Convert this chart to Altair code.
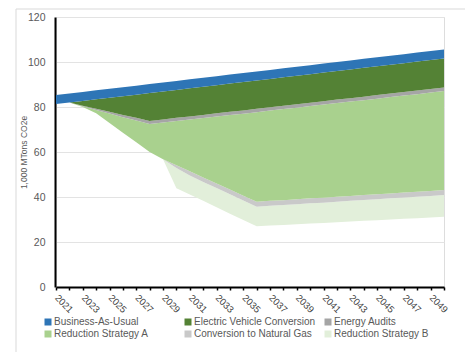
import altair as alt
import pandas as pd

years = list(range(2021, 2051))

# stacked contributions (1,000 MTons CO2e), bottom to top
remaining = [81.3, 82.0, 80.0, 77.2, 72.9, 68.6, 64.3, 60.0, 56.8, 43.9,
             41.1, 38.3, 35.4, 32.6, 29.8, 27.0, 27.3, 27.6, 27.9, 28.2,
             28.5, 28.8, 29.1, 29.4, 29.7, 30.0, 30.3, 30.6, 30.9, 31.2]
reduction_b = [0, 0, 0, 0, 0, 0, 0, 0, 0, 9.0,
               8.5, 8.4, 8.6, 8.6, 8.7, 8.7, 8.8, 8.8, 8.9, 9.0,
               9.0, 9.1, 9.2, 9.3, 9.3, 9.4, 9.5, 9.5, 9.6, 9.7]
natural_gas = [0, 0, 0, 0, 0, 0, 0, 0, 0, 1.2,
               1.8, 2.0, 2.0, 2.1, 2.1, 2.2, 2.2, 2.2, 2.2, 2.2,
               2.2, 2.2, 2.2, 2.2, 2.2, 2.2, 2.2, 2.2, 2.2, 2.2]
reduction_a = [0, 0, 0.3, 1.5, 4.2, 6.9, 9.7, 12.4, 16.3, 19.7,
               23.0, 26.4, 29.8, 33.2, 36.4, 39.8, 40.1, 40.5, 40.7, 41.0,
               41.4, 41.7, 41.9, 42.1, 42.5, 42.8, 43.1, 43.4, 43.7, 44.0]
energy_audits = [0, 0, 0.3, 0.5, 0.8, 1.0, 1.2, 1.4, 1.4, 1.4,
                 1.4, 1.4, 1.4, 1.4, 1.5, 1.5, 1.5, 1.5, 1.5, 1.5,
                 1.5, 1.5, 1.5, 1.6, 1.6, 1.6, 1.6, 1.6, 1.6, 1.6]
ev_conversion = [0, 0, 2.1, 4.2, 6.2, 8.3, 10.3, 12.4, 12.4, 12.4,
                 12.5, 12.5, 12.5, 12.5, 12.6, 12.6, 12.6, 12.6, 12.7, 12.7,
                 12.7, 12.7, 12.8, 12.8, 12.8, 12.8, 12.8, 12.9, 12.9, 12.9]
business_as_usual = [4.0, 4.0, 4.0, 4.0, 4.0, 4.0, 4.0, 4.0, 4.0, 4.0,
                     4.0, 4.0, 4.0, 4.0, 4.0, 4.0, 4.0, 4.0, 4.0, 4.0,
                     4.0, 4.0, 4.0, 4.0, 4.0, 4.0, 4.0, 4.0, 4.0, 4.0]

legend_order = ["Business-As-Usual", "Electric Vehicle Conversion", "Energy Audits",
                "Reduction Strategy A", "Conversion to Natural Gas", "Reduction Strategy B"]
colors = ["#2E75B6", "#548235", "#A5A5A5", "#A9D18E", "#C9C9C9", "#E2EFDA"]

stack = [
    ("Reduction Strategy B", reduction_b),
    ("Conversion to Natural Gas", natural_gas),
    ("Reduction Strategy A", reduction_a),
    ("Energy Audits", energy_audits),
    ("Electric Vehicle Conversion", ev_conversion),
    ("Business-As-Usual", business_as_usual),
]

rows = []
for i, yr in enumerate(years):
    base = remaining[i]
    for name, vals in stack:
        rows.append({"year": yr, "series": name, "bottom": base, "top": base + vals[i]})
        base += vals[i]
df = pd.DataFrame(rows)

font = "Liberation Sans"

areas = alt.Chart(df).mark_area(opacity=1, strokeWidth=0, interpolate="linear").encode(
    x=alt.X("year:Q",
            scale=alt.Scale(domain=[2021, 2050], nice=False, zero=False),
            axis=alt.Axis(values=years, format="d",
                          labelExpr="datum.value % 2 == 1 ? datum.label : ''",
                          labelAngle=45, labelAlign="left", labelBaseline="middle",
                          labelPadding=6, labelFontSize=9.5, labelColor="#404040",
                          labelOverlap=False, labelFont=font,
                          tickSize=3, tickColor="black", tickWidth=1.5,
                          domainColor="black", domainWidth=2, grid=False,
                          title=None, zindex=1)),
    y=alt.Y("top:Q",
            scale=alt.Scale(domain=[0, 120], nice=False),
            axis=alt.Axis(values=[0, 20, 40, 60, 80, 100, 120], grid=True,
                          gridColor="#E3E3E3", gridWidth=1, ticks=False,
                          domainColor="black", domainWidth=2, offset=1,
                          labelPadding=10, labelFontSize=10.5, labelColor="#595959",
                          labelFont=font,
                          title="1,000 MTons CO2e", titleFontSize=8.5,
                          titleFontWeight="normal", titleColor="#595959",
                          titleFont=font, titleAngle=270, titleX=-32, titleY=135,
                          titleAlign="center", titleBaseline="middle")),
    y2="bottom:Q",
    color=alt.Color("series:N",
                    scale=alt.Scale(domain=legend_order, range=colors),
                    legend=alt.Legend(title=None, orient="none", legendX=-13, legendY=300,
                                      direction="horizontal",
                                      columns=3, symbolType="square", symbolSize=49,
                                      symbolStrokeWidth=0, labelFontSize=10,
                                      labelColor="#595959", labelFont=font,
                                      columnPadding=7, rowPadding=2, gridAlign="all",
                                      labelOffset=1, padding=0, labelLimit=300)),
)

frame = pd.DataFrame({"k": [0]})
border_left = alt.Chart(frame).mark_rule(color="#D9D9D9", strokeWidth=1).encode(
    x=alt.value(-40), y=alt.value(-8), y2=alt.value(340))
border_top = alt.Chart(frame).mark_rule(color="#D9D9D9", strokeWidth=1).encode(
    x=alt.value(-40), x2=alt.value(420), y=alt.value(-8))

chart = alt.layer(areas, border_left, border_top).properties(
    width=388, height=270,
    padding={"left": 56, "top": 17, "right": 21, "bottom": 65},
    autosize=alt.AutoSizeParams(type="none"),
    background="white",
).configure_view(stroke=None).configure(font=font)

chart.save("out.html", embed_options={"renderer": "svg", "actions": False})
